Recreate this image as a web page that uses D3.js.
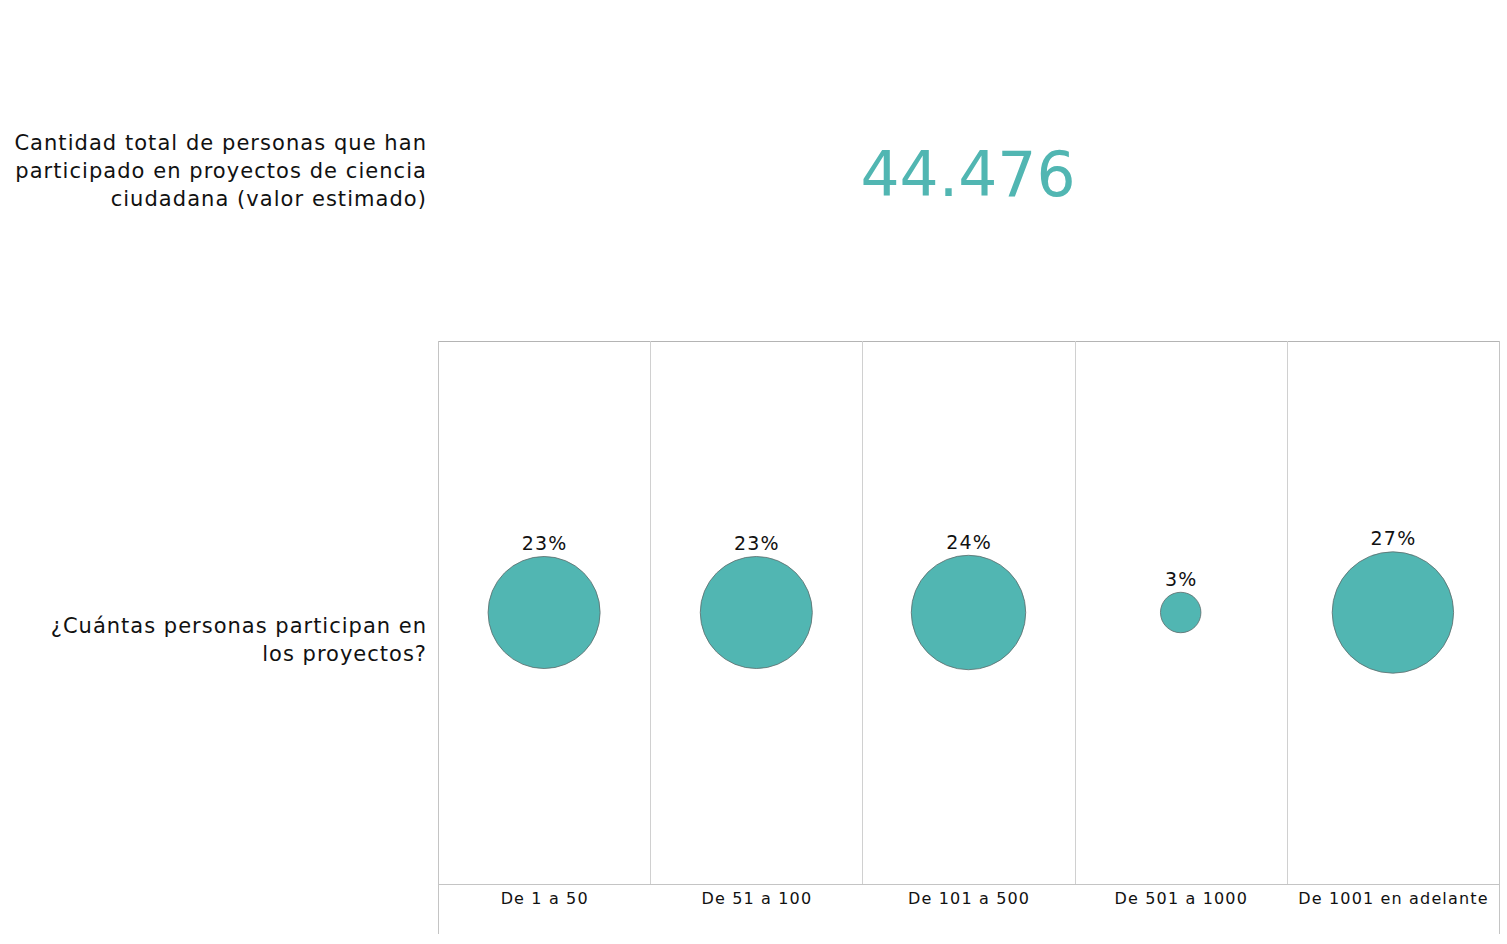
<!DOCTYPE html>
<html>
<head>
<meta charset="utf-8">
<script src="https://cdn.jsdelivr.net/npm/d3@7"></script>
<style>
  body { margin: 0; background: #fff; }
  svg { display: block; font-family: "DejaVu Sans", Verdana, sans-serif; }
</style>
</head>
<body>
<div id="container"></div>
<script>
const totalValue = "44.476";
const totalLabel = ["Cantidad total de personas que han", "participado en proyectos de ciencia", "ciudadana (valor estimado)"];
const questionLabel = ["¿Cuántas personas participan en", "los proyectos?"];
const categories = ["De 1 a 50", "De 51 a 100", "De 101 a 500", "De 501 a 1000", "De 1001 en adelante"];
const percents = [23, 23, 24, 3, 27];

const width = 1507;
const height = 944;
const teal = "#51b6b2";

const svg = d3.select("#container").append("svg")
  .attr("width", width)
  .attr("height", height);

// top block: total number
svg.append("g")
  .selectAll("text")
  .data(totalLabel)
  .enter().append("text")
  .attr("x", 427)
  .attr("y", (d, i) => 150 + i * 28)
  .attr("text-anchor", "end")
  .attr("font-size", 21)
  .attr("letter-spacing", 1.05)
  .attr("fill", "#111")
  .text(d => d);

svg.append("text")
  .attr("x", 968)
  .attr("y", 196)
  .attr("text-anchor", "middle")
  .attr("font-size", 61.5)
  .attr("fill", teal)
  .text(totalValue);

// grid
const gLeft = 438, gRight = 1499, gTop = 341, gBottom = 884;
const x = d3.scaleBand().domain(categories).range([gLeft, gRight]).padding(0);
const r = d3.scaleSqrt().domain([0, d3.max(percents)]).range([0, 60.7]);
const cy = (gTop + gBottom) / 2;

const grid = svg.append("g").attr("fill", "none").attr("shape-rendering", "crispEdges");
grid.append("line")
  .attr("x1", gLeft).attr("x2", gRight).attr("y1", gTop + 0.5).attr("y2", gTop + 0.5)
  .attr("stroke", "#b4b4b4");
grid.append("line")
  .attr("x1", gLeft).attr("x2", gRight).attr("y1", gBottom + 0.5).attr("y2", gBottom + 0.5)
  .attr("stroke", "#c4c4c4");
grid.selectAll("line.col")
  .data(categories.slice(1))
  .enter().append("line")
  .attr("class", "col")
  .attr("x1", d => x(d) + 0.5).attr("x2", d => x(d) + 0.5)
  .attr("y1", gTop).attr("y2", gBottom)
  .attr("stroke", "#d0d0d0");
grid.selectAll("line.edge")
  .data([gLeft, gRight])
  .enter().append("line")
  .attr("class", "edge")
  .attr("x1", d => d + 0.5).attr("x2", d => d + 0.5)
  .attr("y1", gTop).attr("y2", 934)
  .attr("stroke", "#c4c4c4");

// question label
svg.append("g")
  .selectAll("text")
  .data(questionLabel)
  .enter().append("text")
  .attr("x", 427)
  .attr("y", (d, i) => 633 + i * 28)
  .attr("text-anchor", "end")
  .attr("font-size", 21)
  .attr("letter-spacing", 1.0)
  .attr("fill", "#111")
  .text(d => d);

// circles
const data = categories.map((c, i) => ({cat: c, p: percents[i]}));

svg.append("g")
  .selectAll("circle")
  .data(data)
  .enter().append("circle")
  .attr("cx", d => x(d.cat) + x.bandwidth() / 2)
  .attr("cy", cy)
  .attr("r", d => r(d.p))
  .attr("fill", teal)
  .attr("stroke", "#5d6b6b")
  .attr("stroke-width", 0.8);

svg.append("g")
  .selectAll("text")
  .data(data)
  .enter().append("text")
  .attr("x", d => x(d.cat) + x.bandwidth() / 2 + 0.6)
  .attr("y", d => cy - r(d.p) - 6.5)
  .attr("text-anchor", "middle")
  .attr("font-size", 19)
  .attr("letter-spacing", 1.2)
  .attr("fill", "#111")
  .text(d => d.p + "%");

// category labels
svg.append("g")
  .selectAll("text")
  .data(categories)
  .enter().append("text")
  .attr("x", d => x(d) + x.bandwidth() / 2 + 0.6)
  .attr("y", 904)
  .attr("text-anchor", "middle")
  .attr("font-size", 16)
  .attr("letter-spacing", 1.15)
  .attr("fill", "#111")
  .text(d => d);
</script>
</body>
</html>
